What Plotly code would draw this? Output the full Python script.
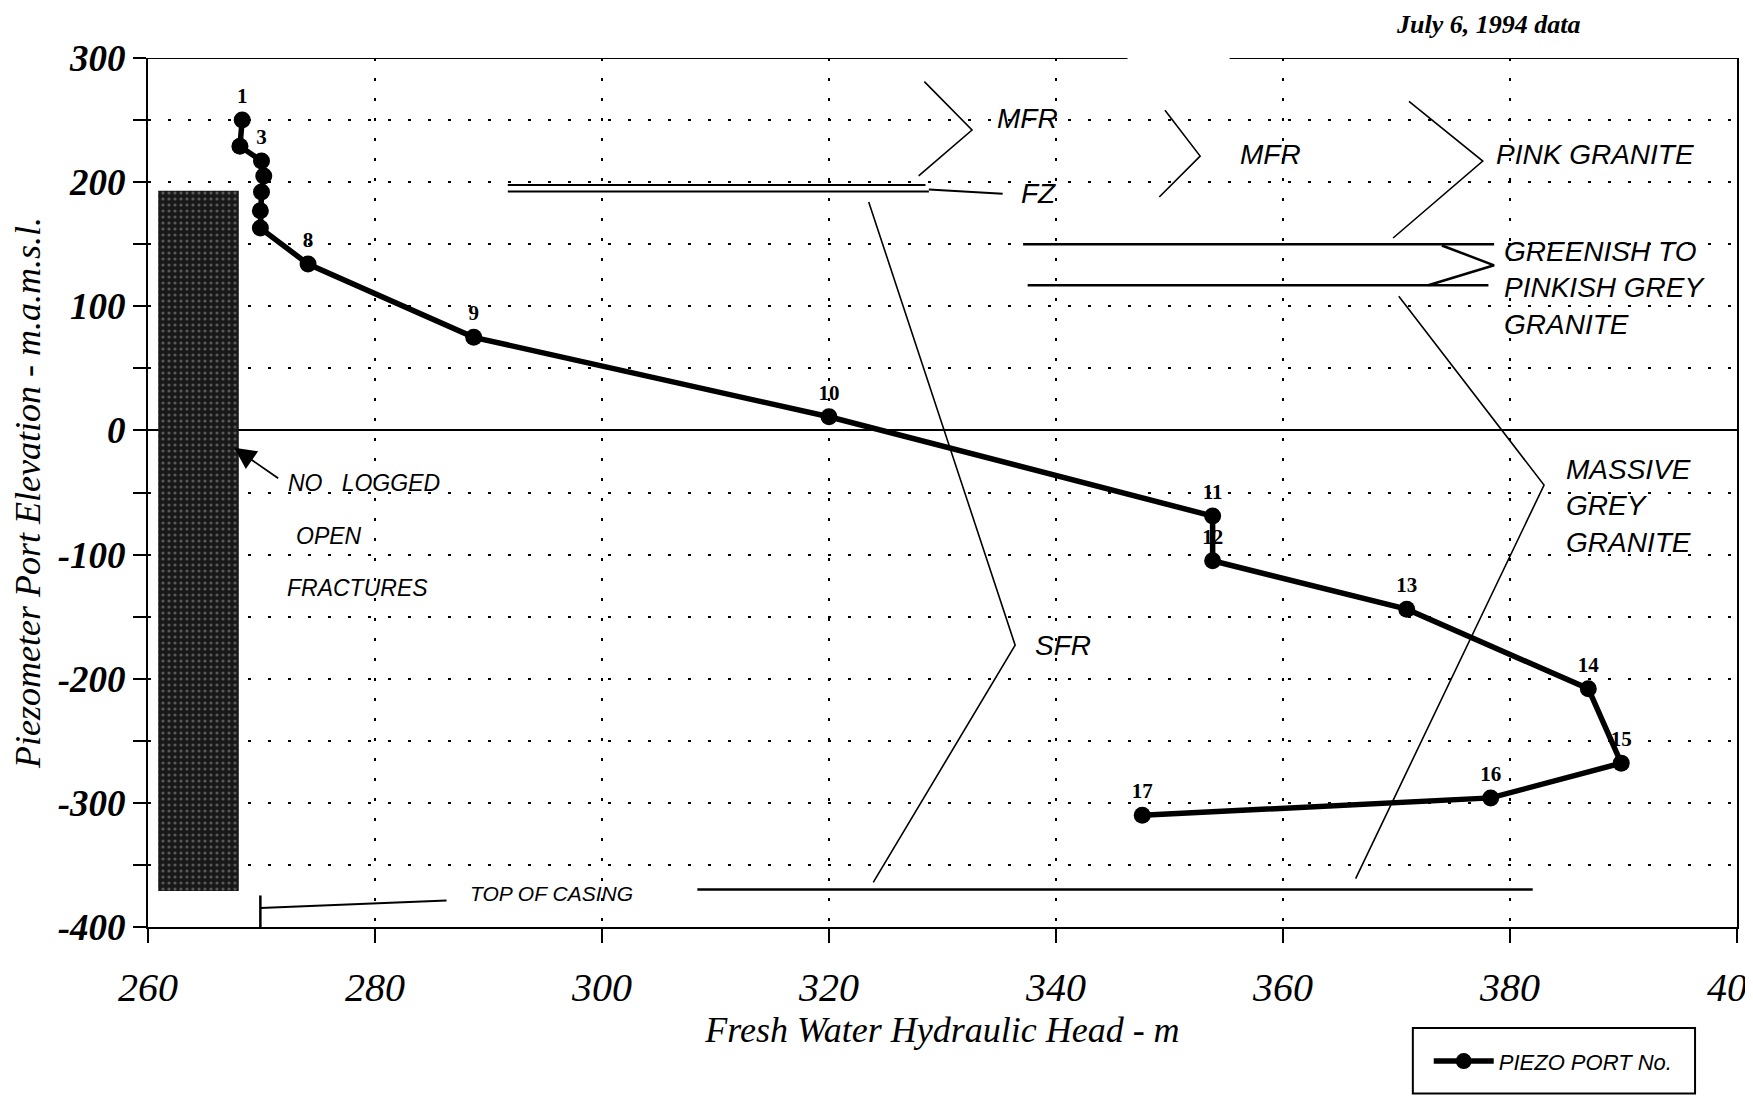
import plotly.graph_objects as go

# ==========================================================
# Data (read off the July 6, 1994 piezometer profile)
# ==========================================================

port_no = ["1", "", "3", "", "", "", "", "8", "9", "10", "11", "12", "13", "14", "15", "16", "17"]
head_m = [268.3, 268.1, 270.0, 270.2, 270.0, 269.9, 269.9, 274.1, 288.7, 320.0,
          353.8, 353.8, 370.9, 386.9, 389.8, 378.3, 347.6]
elev_m = [250, 229, 217, 205, 192, 177, 163, 134, 75, 11,
          -69, -105, -144, -208, -268, -296, -310]

y_tick_vals = [-400, -300, -200, -100, 0, 100, 200, 300]
y_tick_text = ["-400", "-300", "-200", "-100", "0", "100", "200", "300"]

# shaded "no logged open fractures" column
nolog_x = [260.9, 268.0]
nolog_y = [-371, 193]

# geology / structure callouts (bracket polylines)
mfr1_x = [328.4, 332.6, 327.9]
mfr1_y = [281, 242, 205]
mfr2_x = [349.6, 352.7, 349.1]
mfr2_y = [258, 221, 188]
pink_x = [371.1, 377.6, 369.7]
pink_y = [265, 217, 155]
green_x = [374.0, 378.6, 372.8]
green_y = [149, 133, 117]
massive_x = [370.2, 383.0, 366.4]
massive_y = [108, -44, -361]
sfr_x = [323.5, 336.4, 323.9]
sfr_y = [184, -173, -364]

fz_upper_x = [291.7, 328.5]
fz_upper_y = [197.7, 197.7]
fz_lower_x = [291.7, 328.8]
fz_lower_y = [192.5, 192.5]
fz_ptr_x = [328.8, 335.3]
fz_ptr_y = [194, 190.6]

green_top_x = [337.1, 378.6]
green_top_y = [150, 150]
green_bot_x = [337.5, 378.1]
green_bot_y = [117, 117]

casing_line_x = [308.4, 382.0]
casing_line_y = [-369.7, -369.7]
casing_tick_x = [269.9, 269.9]
casing_tick_y = [-400, -374.6]
casing_ptr_x = [269.9, 286.3]
casing_ptr_y = [-384.7, -378.7]

# top frame (the scan has a break in it)
frame_top_x = [[260, 346.3], [355.3, 400]]

LABEL_FONT = dict(family="Liberation Sans", size=28, color="black", style="italic")
SMALL_FONT = dict(family="Liberation Sans", size=23, color="black", style="italic")

fig = go.Figure()

# ==========================================================
# No logged zone
# ==========================================================

fig.add_trace(go.Bar(
    x=[(nolog_x[0] + nolog_x[1]) / 2],
    y=[nolog_y[1] - nolog_y[0]],
    base=[nolog_y[0]],
    width=[nolog_x[1] - nolog_x[0]],
    marker=dict(
        color="#181818",
        line=dict(width=0),
        pattern=dict(shape=".", fgcolor="#9a9a9a", size=6, solidity=0.22, fillmode="overlay"),
    ),
    showlegend=False,
    hoverinfo="skip",
))

# ==========================================================
# Callout lines
# ==========================================================

callouts = [
    (mfr1_x, mfr1_y, 1.6), (mfr2_x, mfr2_y, 1.6), (pink_x, pink_y, 1.6),
    (green_x, green_y, 2.5), (massive_x, massive_y, 1.6), (sfr_x, sfr_y, 1.6),
    (fz_upper_x, fz_upper_y, 2), (fz_lower_x, fz_lower_y, 2), (fz_ptr_x, fz_ptr_y, 2),
    (green_top_x, green_top_y, 2.5), (green_bot_x, green_bot_y, 2.5),
    (casing_line_x, casing_line_y, 2.5), (casing_tick_x, casing_tick_y, 2.5),
    (casing_ptr_x, casing_ptr_y, 2),
]

for xs, ys, w in callouts:
    fig.add_trace(go.Scatter(
        x=xs, y=ys, mode="lines",
        line=dict(color="black", width=w),
        showlegend=False, hoverinfo="skip",
    ))

# ==========================================================
# Piezometer ports
# ==========================================================

fig.add_trace(go.Scatter(
    x=head_m,
    y=elev_m,
    mode="lines+markers+text",
    text=port_no,
    textposition="top center",
    textfont=dict(family="Liberation Serif", size=21, color="black", weight="bold"),
    line=dict(color="black", width=5.5),
    marker=dict(color="black", size=17),
    name="PIEZO PORT No.",
    cliponaxis=False,
))

# ==========================================================
# Text labels
# ==========================================================

texts = [
    (334.6, 251, "MFR", LABEL_FONT),
    (336.7, 190.6, "FZ", LABEL_FONT),
    (356.0, 222, "MFR", LABEL_FONT),
    (378.6, 222.6, "PINK GRANITE", LABEL_FONT),
    (379.3, 115, "GREENISH TO<br>PINKISH GREY<br>GRANITE", LABEL_FONT),
    (384.8, -61, "MASSIVE<br>GREY<br>GRANITE", LABEL_FONT),
    (338.0, -173, "SFR", LABEL_FONT),
    (272.2, -42, "NO&nbsp;&nbsp;&nbsp;LOGGED", SMALL_FONT),
    (272.9, -85, "OPEN", SMALL_FONT),
    (272.1, -127, "FRACTURES", SMALL_FONT),
    (288.2, -373, "TOP OF CASING", dict(family="Liberation Sans", size=21, color="black", style="italic")),
]

for x, y, t, f in texts:
    fig.add_annotation(
        x=x, y=y, text=t, showarrow=False,
        xanchor="left", yanchor="middle", align="left", font=f,
    )

fig.add_annotation(
    x=267.6, y=-14, ax=271.6, ay=-39.4,
    xref="x", yref="y", axref="x", ayref="y",
    text="", showarrow=True,
    arrowhead=2, arrowsize=2.4, arrowwidth=1.8, arrowcolor="black",
)

fig.add_annotation(
    x=0.9025, y=1.057, xref="paper", yref="paper",
    xanchor="right", yanchor="top", showarrow=False,
    text="July 6, 1994 data",
    font=dict(family="Liberation Serif", size=26, color="black", style="italic", weight="bold"),
)

# ==========================================================
# Frame and legend box
# ==========================================================

for x0, x1 in frame_top_x:
    fig.add_shape(type="line", xref="x", yref="y", x0=x0, x1=x1, y0=300, y1=300,
                  line=dict(color="black", width=2))

fig.add_shape(type="rect", xref="paper", yref="paper",
              x0=0.796, x1=0.9736, y0=-0.1915, y1=-0.1162,
              line=dict(color="black", width=2))

# ==========================================================
# Layout
# (page body has an 8px margin, so the figure is trimmed to fit the window)
# ==========================================================

grid_dash = "3px,17px"

fig.update_layout(
    width=1737,
    height=1087,
    paper_bgcolor="white",
    plot_bgcolor="white",
    margin=dict(l=140, r=8, t=50, b=168),
    font=dict(family="Liberation Serif", color="black"),
    showlegend=True,
    legend=dict(
        x=0.806, y=-0.1545, xanchor="left", yanchor="middle",
        bgcolor="rgba(0,0,0,0)", borderwidth=0,
        itemwidth=60,
        font=dict(family="Liberation Sans", size=22, color="black", style="italic"),
    ),
    xaxis=dict(
        range=[260, 400],
        dtick=20,
        tick0=260,
        automargin=False,
        showline=True,
        linecolor="black",
        linewidth=2,
        ticks="outside",
        ticklen=14,
        tickwidth=2,
        tickcolor="black",
        ticklabelstandoff=10,
        ticklabeloverflow="allow",
        tickfont=dict(family="Liberation Serif", size=40, style="italic"),
        showgrid=True,
        gridcolor="black",
        gridwidth=2,
        griddash=grid_dash,
        zeroline=False,
        title=dict(
            text="Fresh Water Hydraulic Head - m",
            font=dict(family="Liberation Serif", size=36, style="italic"),
            standoff=4,
        ),
    ),
    yaxis=dict(
        range=[-400, 300],
        tickmode="array",
        tickvals=y_tick_vals,
        ticktext=y_tick_text,
        automargin=False,
        showline=True,
        mirror=True,
        linecolor="black",
        linewidth=2,
        ticks="outside",
        ticklen=13,
        tickwidth=2,
        tickcolor="black",
        tickfont=dict(family="Liberation Serif", size=37, style="italic", weight="bold"),
        showgrid=True,
        gridcolor="black",
        gridwidth=2,
        griddash=grid_dash,
        minor=dict(
            dtick=50,
            tick0=0,
            ticks="outside",
            ticklen=13,
            tickwidth=2,
            tickcolor="black",
            showgrid=True,
            gridcolor="black",
            gridwidth=2,
            griddash=grid_dash,
        ),
        zeroline=True,
        zerolinecolor="black",
        zerolinewidth=2,
        title=dict(
            text="Piezometer Port Elevation - m.a.m.s.l.",
            font=dict(family="Liberation Serif", size=36, style="italic"),
            standoff=8,
        ),
    ),
)

fig.write_html("out.html")
